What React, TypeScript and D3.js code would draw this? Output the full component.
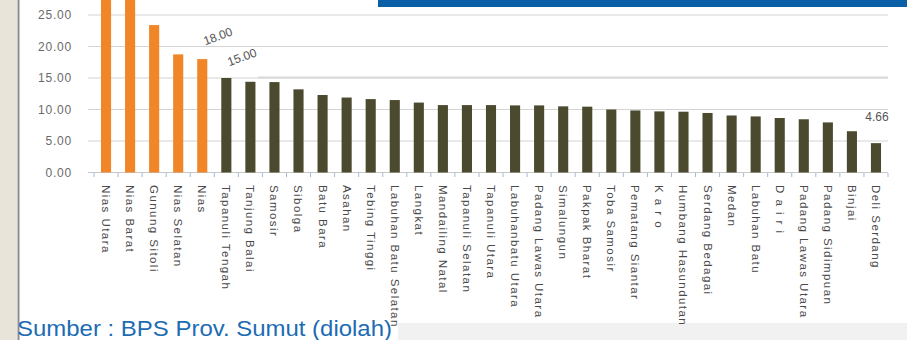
import React from "react";
import * as d3 from "d3";

const categories: string[] = [
  "Nias Utara", "Nias Barat", "Gunung Sitoli", "Nias Selatan", "Nias",
  "Tapanuli Tengah", "Tanjung Balai", "Samosir", "Sibolga", "Batu Bara",
  "Asahan", "Tebing Tinggi", "Labuhan Batu Selatan", "Langkat", "Mandailing Natal",
  "Tapanuli Selatan", "Tapanuli Utara", "Labuhanbatu Utara", "Padang Lawas Utara", "Simalungun",
  "Pakpak Bharat", "Toba Samosir", "Pematang Siantar", "K a r o", "Humbang Hasundutan",
  "Serdang Bedagai", "Medan", "Labuhan Batu", "D a i r i", "Padang Lawas Utara",
  "Padang Sidimpuan", "Binjai", "Deli Serdang",
];

const values: number[] = [
  29.5, 29.0, 23.4, 18.75, 18.0,
  15.0, 14.4, 14.35, 13.2, 12.3,
  11.9, 11.65, 11.5, 11.1, 10.7,
  10.7, 10.7, 10.65, 10.65, 10.5,
  10.45, 10.0, 9.85, 9.7, 9.65,
  9.45, 9.05, 8.9, 8.65, 8.45,
  7.95, 6.55, 4.66,
];

const highlightCount = 5;
const yTicks: number[] = [0, 5, 10, 15, 20, 25];
const valueLabels: { index: number; text: string }[] = [
  { index: 4, text: "18.00" },
  { index: 5, text: "15.00" },
  { index: 32, text: "4.66" },
];
const sourceText = "Sumber : BPS Prov. Sumut (diolah)";

const W = 907;
const H = 340;

export default function App() {
  const x = d3
    .scaleBand<number>()
    .domain(d3.range(categories.length))
    .range([94, 888])
    .paddingInner(0.58)
    .paddingOuter(0.29);
  const y = d3.scaleLinear().domain([0, 25]).range([172.5, 15]);
  const bw = x.bandwidth();
  const step = x.step();
  const cx = (i: number) => (x(i) as number) + bw / 2;

  return (
    <svg
      width={W}
      height={H}
      style={{ position: "absolute", left: 0, top: 0, background: "#ffffff" }}
      fontFamily="'Liberation Sans', Arial, sans-serif"
    >
      <rect x={0} y={0} width={W} height={H} fill="#ffffff" />
      {/* left decorative strip */}
      <rect x={0} y={0} width={17} height={H} fill="#e8e4d9" />
      <line x1={18.5} x2={18.5} y1={0} y2={H} stroke="#8c8c8c" strokeWidth={2} />
      {/* bottom band */}
      <rect x={20} y={323} width={W - 20} height={H - 323} fill="#f1f1f1" />
      <rect x={20} y={323} width={378} height={H - 323} fill="#ffffff" />

      {/* gridlines */}
      {yTicks.map((t) => (
        <line
          key={"g" + t}
          x1={88}
          x2={888}
          y1={y(t)}
          y2={y(t)}
          stroke={t === 0 ? "#c8c8c8" : "#d4d4d4"}
          strokeWidth={1.2}
        />
      ))}
      <line x1={258} x2={888} y1={y(15) - 0.5} y2={y(15) - 0.5} stroke="#dadada" strokeWidth={2.2} />

      {/* y labels */}
      {yTicks.map((t) => (
        <text
          key={"yl" + t}
          x={72}
          y={y(t)}
          dy="0.35em"
          textAnchor="end"
          fontSize={12}
          letterSpacing={0.8}
          fill="#6a6a6a"
        >
          {t.toFixed(2)}
        </text>
      ))}

      {/* x ticks */}
      {d3.range(categories.length + 1).map((i) => {
        const tx = 94 + i * step;
        return (
          <line key={"t" + i} x1={tx} x2={tx} y1={173} y2={177} stroke="#9fbcdc" strokeWidth={1} />
        );
      })}

      {/* bars */}
      {values.map((v, i) => (
        <rect
          key={"b" + i}
          x={x(i)}
          y={y(v)}
          width={bw}
          height={y(0) - y(v)}
          fill={i < highlightCount ? "#f08628" : "#4b4a2f"}
        />
      ))}

      {/* x labels */}
      {categories.map((c, i) => (
        <text
          key={"xl" + i}
          x={cx(i)}
          y={185}
          transform={`rotate(90, ${cx(i)}, 185)`}
          dy="0.35em"
          textAnchor="start"
          fontSize={11.5}
          letterSpacing={1.45}
          fill="#4a4a4a"
        >
          {c}
        </text>
      ))}

      {/* value labels */}
      {valueLabels.map((l) => {
        const v = values[l.index];
        const bx = cx(l.index);
        if (l.index === 32) {
          return (
            <text key={"vl" + l.index} x={bx + 1} y={121} textAnchor="middle" fontSize={12} fill="#555">
              {l.text}
            </text>
          );
        }
        const lx = bx + 17;
        const ly = l.index === 5 ? y(v) - 17 : y(v) - 19;
        return (
          <text
            key={"vl" + l.index}
            x={lx}
            y={ly}
            textAnchor="middle"
            fontSize={12}
            fill="#555"
            transform={`rotate(-20, ${lx}, ${ly})`}
          >
            {l.text}
          </text>
        );
      })}

      {/* top banner */}
      <rect x={378} y={0} width={W - 378} height={7} fill="#0a5fa6" />

      {/* source */}
      <text x={17} y={335.5} fontSize={22.5} textLength={375} lengthAdjust="spacingAndGlyphs" fill="#1d6cb3">
        {sourceText}
      </text>
    </svg>
  );
}
